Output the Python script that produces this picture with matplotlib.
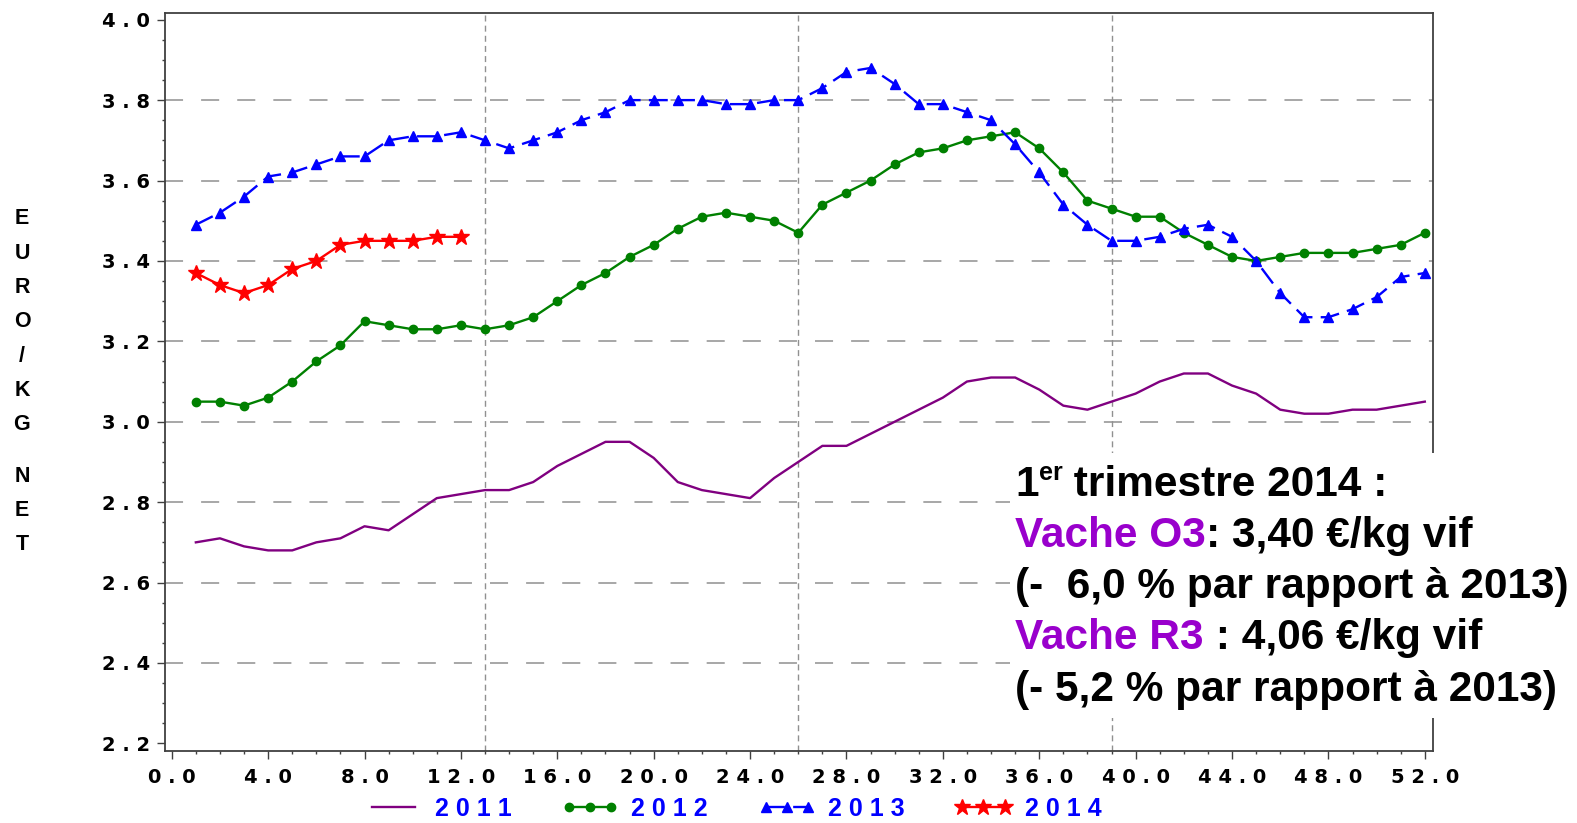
import numpy as np
import matplotlib
matplotlib.use("Agg")
import matplotlib.pyplot as plt
from matplotlib.patches import Rectangle
from matplotlib.ticker import MultipleLocator, FuncFormatter

# prix hebdomadaires vache O3 (euro / kg net)
semaines = np.arange(1, 53)
prix_2011 = [2.70, 2.71, 2.69, 2.68, 2.68, 2.70, 2.71, 2.74, 2.73, 2.77,
             2.81, 2.82, 2.83, 2.83, 2.85, 2.89, 2.92, 2.95, 2.95, 2.91,
             2.85, 2.83, 2.82, 2.81, 2.86, 2.90, 2.94, 2.94, 2.97, 3.00,
             3.03, 3.06, 3.10, 3.11, 3.11, 3.08, 3.04, 3.03, 3.05, 3.07,
             3.10, 3.12, 3.12, 3.09, 3.07, 3.03, 3.02, 3.02, 3.03, 3.03,
             3.04, 3.05]
prix_2012 = [3.05, 3.05, 3.04, 3.06, 3.10, 3.15, 3.19, 3.25, 3.24, 3.23,
             3.23, 3.24, 3.23, 3.24, 3.26, 3.30, 3.34, 3.37, 3.41, 3.44,
             3.48, 3.51, 3.52, 3.51, 3.50, 3.47, 3.54, 3.57, 3.60, 3.64,
             3.67, 3.68, 3.70, 3.71, 3.72, 3.68, 3.62, 3.55, 3.53, 3.51,
             3.51, 3.47, 3.44, 3.41, 3.40, 3.41, 3.42, 3.42, 3.42, 3.43,
             3.44, 3.47]
prix_2013 = [3.49, 3.52, 3.56, 3.61, 3.62, 3.64, 3.66, 3.66, 3.70, 3.71,
             3.71, 3.72, 3.70, 3.68, 3.70, 3.72, 3.75, 3.77, 3.80, 3.80,
             3.80, 3.80, 3.79, 3.79, 3.80, 3.80, 3.83, 3.87, 3.88, 3.84,
             3.79, 3.79, 3.77, 3.75, 3.69, 3.62, 3.54, 3.49, 3.45, 3.45,
             3.46, 3.48, 3.49, 3.46, 3.40, 3.32, 3.26, 3.26, 3.28, 3.31,
             3.36, 3.37]
semaines_2014 = np.arange(1, 13)
prix_2014 = [3.37, 3.34, 3.32, 3.34, 3.38, 3.40, 3.44, 3.45, 3.45, 3.45,
             3.46, 3.46]
annees = ["2011", "2012", "2013", "2014"]
trimestres = [13, 26, 39]
label_y = "EURO/KG NET"

W, H = 1577, 823
fig = plt.figure(figsize=(W / 100, H / 100), dpi=100)
ax = fig.add_axes([165 / W, 1 - 751 / H, (1433 - 165) / W, (751 - 13) / H])

l11, = ax.plot(semaines, prix_2011, color="#800080", lw=1.7, zorder=3)
l12, = ax.plot(semaines, prix_2012, color="#008000", lw=1.7, marker="o", ms=6, zorder=3)
l13, = ax.plot(semaines, prix_2013, color="#0000ff", lw=1.7, marker="^", ms=7.5,
               dashes=(8, 3.5), zorder=3)
l14, = ax.plot(semaines_2014, prix_2014, color="#ff0000", lw=1.7, marker="*", ms=12,
               zorder=4)

for y in np.arange(2.4, 3.81, 0.2):
    ax.axhline(y, color="#a0a0a0", lw=1.3, dashes=(10, 10), zorder=1)
for x in trimestres:
    ax.axvline(x, color="#909090", lw=1.0, dashes=(4.3, 3), zorder=1)

ax.set_xlim(-0.28, 52.34)
ax.set_ylim(2.181, 4.0167)
ax.xaxis.set_major_locator(MultipleLocator(4))
ax.xaxis.set_minor_locator(MultipleLocator(1))
ax.yaxis.set_major_locator(MultipleLocator(0.2))
ax.yaxis.set_minor_locator(MultipleLocator(0.05))
fmt = FuncFormatter(lambda v, p: " ".join(f"{v:.1f}"))
ax.xaxis.set_major_formatter(fmt)
ax.yaxis.set_major_formatter(fmt)
ax.tick_params(which="major", direction="out", length=6, width=1, color="#404040",
               labelsize=14, pad=5)
ax.tick_params(which="minor", direction="out", length=2.5, width=1, color="#404040")
ax.tick_params(axis="x", pad=6)
for lab in ax.get_xticklabels() + ax.get_yticklabels():
    lab.set_fontweight("bold")
for s in ax.spines.values():
    s.set_color("#404040")
    s.set_linewidth(1.3)

# axe y ecrit verticalement, lettre par lettre
pos = 0
for ch in label_y:
    if ch == " ":
        pos += 0.5
        continue
    fig.text(22 / W, 1 - (219 + 34.3 * pos) / H, ch, ha="center", va="center",
             fontsize=15.5, fontweight="bold", family="Liberation Sans")
    pos += 1

# encadre de commentaire
ax.add_patch(Rectangle((1010 / W, 1 - 718 / H), (W - 1010) / W, (718 - 453) / H,
                       transform=fig.transFigure, facecolor="white", edgecolor="none",
                       zorder=10, clip_on=False))
fp = dict(family="Liberation Sans", fontweight="bold", fontsize=30.5)
violet = "#9900cc"


def suite(prev, txt, color="black", **kw):
    args = dict(fp)
    args.update(kw)
    return ax.annotate(txt, xy=(1, 0), xycoords=prev, ha="left", va="bottom",
                       color=color, zorder=11, annotation_clip=False, **args)


x0 = 1015 / W
t = ax.text(x0, 1 - 505 / H, "1", transform=fig.transFigure, ha="left", va="bottom",
            zorder=11, clip_on=False, **fp)
sup = ax.annotate("er", xy=(1, 1), xycoords=t, ha="left", va="top", xytext=(0, 3),
                  textcoords="offset points", family="Liberation Sans",
                  fontweight="bold", fontsize=18, zorder=11, annotation_clip=False)
ax.annotate(" trimestre 2014 :", xy=(1, 0), xycoords=(sup, t), ha="left", va="bottom",
            zorder=11, annotation_clip=False, **fp)

t = ax.text(x0, 1 - 556 / H, "Vache O3", transform=fig.transFigure, ha="left",
            va="bottom", color=violet, zorder=11, clip_on=False, **fp)
suite(t, ": 3,40 €/kg vif")
ax.text(x0, 1 - 607 / H, "(-  6,0 % par rapport à 2013)", transform=fig.transFigure,
        ha="left", va="bottom", zorder=11, clip_on=False, **fp)
t = ax.text(x0, 1 - 658 / H, "Vache R3", transform=fig.transFigure, ha="left",
            va="bottom", color=violet, zorder=11, clip_on=False, **fp)
suite(t, " : 4,06 €/kg vif")
ax.text(x0, 1 - 710 / H, "(- 5,2 % par rapport à 2013)", transform=fig.transFigure,
        ha="left", va="bottom", zorder=11, clip_on=False, **fp)

leg = fig.legend([l11, l12, l13, l14], [" ".join(a) for a in annees], loc="center",
                 bbox_to_anchor=(733 / W, 1 - 809 / H), ncol=4, frameon=False,
                 numpoints=3, handlelength=2.3, handletextpad=0.5, columnspacing=2.0,
                 prop=dict(family="Liberation Sans", weight="bold", size=18))
for txt in leg.get_texts():
    txt.set_color("#0000ff")

fig.savefig("out.png", dpi=100)
